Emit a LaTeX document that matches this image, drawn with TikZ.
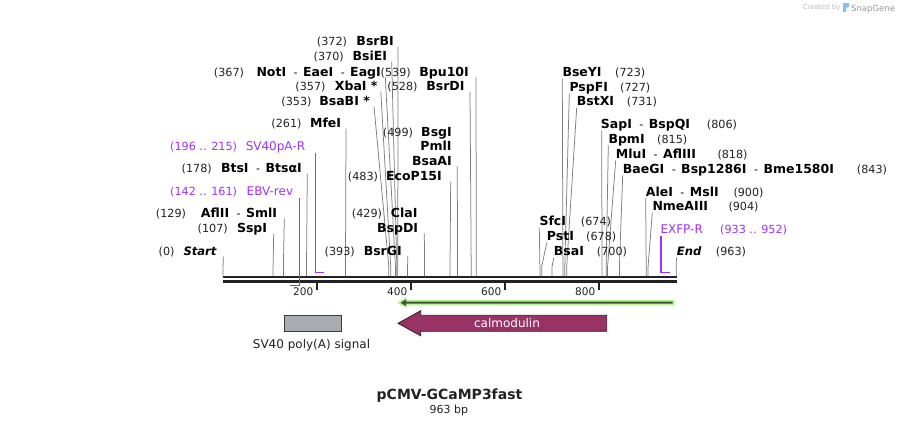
\documentclass[tikz,border=0pt]{standalone}
\usepackage{fontspec}
\setmainfont{DejaVu Sans}[BoldFont={DejaVu Sans Bold},ItalicFont={DejaVu Sans Oblique},BoldItalicFont={DejaVu Sans Bold Oblique}]
\definecolor{primc}{RGB}{160,50,240}
\definecolor{cutc}{RGB}{125,125,125}
\definecolor{seqc}{RGB}{34,34,34}
\definecolor{txtc}{RGB}{34,34,34}
\definecolor{calc}{RGB}{153,51,102}
\definecolor{polyc}{RGB}{167,172,178}
\definecolor{halo}{RGB}{183,242,150}
\definecolor{orfc}{RGB}{62,82,55}
\definecolor{logoc}{RGB}{126,195,234}
\newcommand{\ds}{\hspace{7.5pt}{\mdseries\fontsize{11}{11}\selectfont -}\hspace{5.5pt}}
% left label: id, name, nameEndX, baseY, num, numEndX, lineX, siteX
\newcommand{\LL}[8]{%
  \node[enzlab, anchor=base east] (#1) at (#3,#4) {#2};
  \node[poslab, anchor=base east] (#1n) at (#6,#4) {#5};
  \coordinate (#1t) at (#7,#4+1);
  \coordinate (#1s) at (#8,276.3);
  \draw[cutln] (#1t) -- ([yshift=10pt]#1s) -- (#1s);}
% right label: id, name, nameStartX, baseY, num, numStartX, lineX, siteX
\newcommand{\RL}[8]{%
  \node[enzlab, anchor=base west] (#1) at (#3,#4) {#2};
  \node[poslab, anchor=base west] (#1n) at (#6,#4) {#5};
  \coordinate (#1t) at (#7,#4+2);
  \coordinate (#1s) at (#8,276.3);
  \draw[cutln] (#1t) -- ([yshift=10pt]#1s) -- (#1s);}
\begin{document}
\begin{tikzpicture}[x=1pt,y=-1pt,
  enzlab/.style={inner sep=0pt, font=\fontsize{12.5}{12.5}\selectfont\bfseries, text=black},
  poslab/.style={inner sep=0pt, font=\fontsize{11.2}{11.2}\selectfont, text=txtc},
  primlab/.style={inner sep=0pt, font=\fontsize{12}{12}\selectfont, text=primc},
  primposlab/.style={inner sep=0pt, font=\fontsize{11.2}{11.2}\selectfont, text=primc},
  endlab/.style={inner sep=0pt, font=\fontsize{11.6}{11.6}\selectfont\bfseries\itshape, text=black},
  cutln/.style={draw=cutc, line width=0.75pt},
  primline/.style={draw=primc, line width=1.6pt},
  seqline/.style={draw=seqc, line width=2.4pt},
  tickmk/.style={draw=seqc, line width=1.7pt},
  ticklab/.style={inner sep=0pt, font=\fontsize{10.5}{10.5}\selectfont, text=txtc}]
\fill[white] (0,0) rectangle (900,426);
\useasboundingbox (0,0) rectangle (900,426);

% watermark
\node[inner sep=0pt, anchor=base west, font=\fontsize{6.8}{6.8}\selectfont, text={rgb,255:red,187;green,187;blue,187}] (wm1) at (802.7,9.5) {Created by};
\fill[logoc] (843,2.8) rectangle (845.6,12.4);
\fill[logoc] (845.6,2.8) -- (847.6,2.8) .. controls (850,2.8) and (850,7.6) .. (847.6,7.6) -- (845.6,7.6) -- cycle;
\node[inner sep=0pt, anchor=base west, font=\fontsize{8.5}{8.5}\selectfont, text={rgb,255:red,150;green,150;blue,150}] (wm2) at (851,11) {SnapGene};

% sequence lines
\coordinate (sq0) at (222.7,277);
\coordinate (sq1) at (676.7,277);
\coordinate (sq2) at (222.7,281.5);
\coordinate (sq3) at (676.7,281.5);
\draw[seqline] (sq0) -- (sq1);
\draw[seqline] (sq2) -- (sq3);

% ticks
\foreach \tx/\tl in {316.7/200, 410.7/400, 504.7/600, 598.7/800}{
  \draw[tickmk] (\tx,282.7) -- (\tx,290);
  \node[ticklab, anchor=base east] (tk\tl) at (\tx-3.3,295) {\tl};
}

% left-side enzymes
\LL{bsrbi}{BsrBI}{394}{45.7}{(372)}{347.3}{398}{397.8}
\LL{bsiei}{BsiEI}{387.3}{60.7}{(370)}{344}{391.7}{396.8}
\LL{noti}{NotI\ds EaeI\ds EagI}{381}{76}{(367)}{244.3}{385.3}{395.4}
\LL{xbai}{XbaI~*}{377.7}{90.7}{(357)}{325.7}{380.8}{390.7}
\LL{bsabi}{BsaBI~*}{370}{105.3}{(353)}{311.7}{374}{388.8}
\LL{mfei}{MfeI}{341.3}{127.7}{(261)}{301.7}{346}{345.5}
\LL{btsi}{BtsI\ds BtsαI}{302}{172.7}{(178)}{212}{307.3}{306.5}
\LL{aflii}{AflII\ds SmlI}{277.3}{217.3}{(129)}{186.3}{284.3}{283.4}
\LL{sspi}{SspI}{267.3}{232.3}{(107)}{228}{273.7}{273.1}
\LL{bsrgi}{BsrGI}{402}{255.3}{(393)}{355}{407.7}{407.6}
\node[enzlab, anchor=base east] (clai) at (417.7,217.3) {ClaI};
\node[poslab, anchor=base east] (clain) at (382.3,217.3) {(429)};
\node[enzlab, anchor=base east] (bspdi) at (418.3,232.3) {BspDI};
\coordinate (bspdit) at (424.3,233.3);
\coordinate (bspdis) at (424.6,276.3);
\draw[cutln] (bspdit) -- ([yshift=10pt]bspdis) -- (bspdis);
\LL{ecop}{EcoP15I}{442}{180.7}{(483)}{378.3}{450.7}{450}
\node[enzlab, anchor=base east] (bsgi) at (452,136) {BsgI};
\node[poslab, anchor=base east] (bsgin) at (413.3,136) {(499)};
\node[enzlab, anchor=base east] (pmli) at (451.7,150.7) {PmlI};
\node[enzlab, anchor=base east] (bsaai) at (452,165.3) {BsaAI};
\coordinate (bsaait) at (457.3,166.3);
\coordinate (bsaais) at (457.5,276.3);
\draw[cutln] (bsaait) -- ([yshift=10pt]bsaais) -- (bsaais);
\LL{bsrdi}{BsrDI}{464.7}{90.7}{(528)}{417.7}{470}{471.2}
\LL{bpu}{Bpu10I}{469}{76}{(539)}{411}{476}{476.3}

% Start
\node[endlab, anchor=base east] (start) at (216.7,255.3) {Start};
\node[poslab, anchor=base east] (startn) at (174.7,255.3) {(0)};
\coordinate (startt) at (223.3,256.5);
\coordinate (starts) at (222.9,276.3);
\draw[cutln] (startt) -- (starts);

% right-side enzymes
\RL{bseyi}{BseYI}{562.3}{76.7}{(723)}{615}{562.3}{562.9}
\RL{pspfi}{PspFI}{569.3}{91.7}{(727)}{620}{569.3}{564.8}
\RL{bstxi}{BstXI}{576.7}{105.7}{(731)}{626.7}{576.7}{566.7}
\RL{sapi}{SapI\ds BspQI}{600.7}{128.3}{(806)}{706.7}{601.7}{602}
\RL{bpmi}{BpmI}{608.3}{143.3}{(815)}{657}{608.3}{606.2}
\RL{mlui}{MluI\ds AflIII}{615.7}{158.3}{(818)}{717.3}{615.7}{607.6}
\RL{baegi}{BaeGI\ds Bsp1286I\ds Bme1580I}{622.7}{173.3}{(843)}{856.7}{622.7}{619.4}
\RL{alei}{AleI\ds MslI}{645.7}{196}{(900)}{733.3}{645.7}{646.2}
\RL{nme}{NmeAIII}{652.3}{210.7}{(904)}{728.3}{652.3}{648.1}
\RL{sfci}{SfcI}{539.3}{225.7}{(674)}{580.7}{539.3}{539.9}
\RL{psti}{PstI}{546.7}{240.7}{(678)}{586}{546.7}{541.8}
\RL{bsai}{BsaI}{553.7}{255.7}{(700)}{596.7}{553.7}{552.1}

% End
\node[endlab, anchor=base west] (endl) at (676.7,255.7) {End};
\node[poslab, anchor=base west] (endn) at (715.7,255.7) {(963)};
\coordinate (endt) at (676.4,257.5);
\coordinate (ends) at (676.2,276.3);
\draw[cutln] (endt) -- (ends);

% primers
\node[primlab, anchor=base east] (sv40r) at (305.3,150.7) {SV40pA-R};
\node[primposlab, anchor=base east] (sv40rn) at (237.3,150.7) {(196 .. 215)};
\coordinate (sv40a) at (315.5,153.3);
\coordinate (sv40b) at (315.5,272.6);
\coordinate (sv40c) at (323.8,272.6);
\draw[primline] (sv40a) -- (sv40b) -- (sv40c);

\node[primlab, anchor=base east] (ebv) at (293.3,195.7) {EBV-rev};
\node[primposlab, anchor=base east] (ebvn) at (237.3,195.7) {(142 .. 161)};
\coordinate (ebva) at (299.5,198.3);
\coordinate (ebvb) at (299.5,285.5);
\coordinate (ebvc) at (289.7,285.5);
\draw[primline] (ebva) -- (ebvb) -- (ebvc);

\node[primlab, anchor=base west] (exfp) at (660.3,233.3) {EXFP-R};
\node[primposlab, anchor=base west] (exfpn) at (720,233.3) {(933 .. 952)};
\coordinate (exfpa) at (660.8,235.5);
\coordinate (exfpb) at (660.8,272.6);
\coordinate (exfpc) at (669.5,272.6);
\draw[primline] (exfpa) -- (exfpb) -- (exfpc);

% green ORF arrow
\fill[halo] (397,302.7) -- (406.5,297.2) -- (406.5,300) -- (674.5,300) -- (674.5,305.4) -- (406.5,305.4) -- (406.5,308.2) -- cycle;
\fill[orfc] (400.5,302.7) -- (406,299.4) -- (406,301.7) -- (672.5,301.7) -- (672.5,303.7) -- (406,303.7) -- (406,306) -- cycle;

% SV40 poly(A) signal
\draw[fill=polyc, draw={rgb,255:red,60;green,60;blue,60}, line width=0.8pt] (284,315.3) rectangle (341.7,331.3);
\node[inner sep=0pt, font=\fontsize{12}{12}\selectfont, text=txtc] (polylab) at (311.5,345) {SV40 poly(A) signal};

% calmodulin
\draw[fill=calc, draw={rgb,255:red,50;green,30;blue,40}, line width=0.8pt]
  (398,323.3) -- (420.7,310.7) -- (420.7,315.3) -- (606.7,315.3) -- (606.7,331.3) -- (420.7,331.3) -- (420.7,335.8) -- cycle;
\node[inner sep=0pt, font=\fontsize{12}{12}\selectfont, text=white] (callab) at (507,323) {calmodulin};

% title
\node[inner sep=0pt, anchor=base, font=\fontsize{14}{14}\selectfont\bfseries, text=txtc] (title) at (449.5,399.3) {pCMV-GCaMP3fast};
\node[inner sep=0pt, anchor=base, font=\fontsize{11}{11}\selectfont, text=txtc] (bp) at (448.8,413.3) {963 bp};
\end{tikzpicture}
\end{document}
